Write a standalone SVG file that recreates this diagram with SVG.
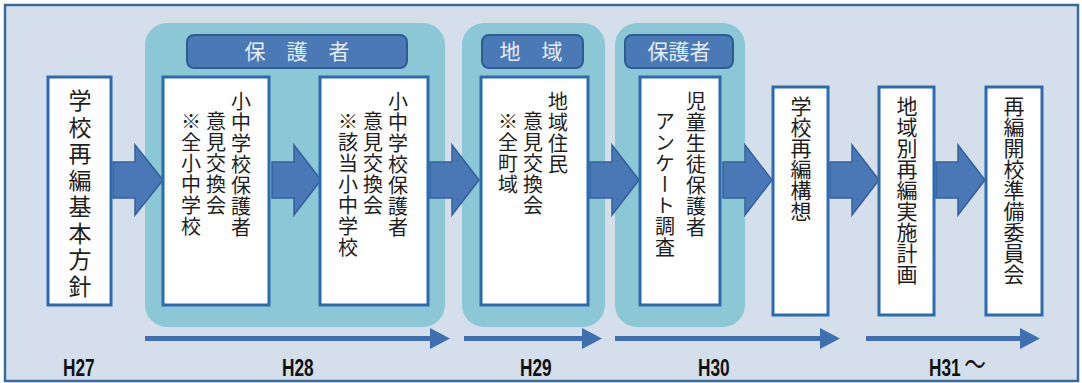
<svg xmlns="http://www.w3.org/2000/svg" width="1082" height="383" viewBox="0 0 1082 383">
<style>
.grp{fill:#8cc7d6;}
.hdr{fill:#4b79b5;stroke:#2f5b92;stroke-width:2;}
.hdrt{font-family:"Noto Sans CJK JP","Noto Sans CJK SC",sans-serif;font-size:21px;fill:#e6edf5;text-anchor:middle;}
.box{fill:#ffffff;stroke:#2d6aae;stroke-width:3;}
.vt{font-family:"Noto Sans CJK JP","Noto Sans CJK SC",sans-serif;fill:#1e1e1e;writing-mode:vertical-rl;}
.f20{font-size:20px;letter-spacing:1px;}
.f21{font-size:21px;}
.f23{font-size:23px;letter-spacing:3.5px;}
.arr{fill:#4a78b6;stroke:#36609c;stroke-width:1.5;stroke-linejoin:miter;}
.tl{fill:#3f6fae;}
.yr{font-family:"Liberation Sans",sans-serif;font-weight:bold;font-size:24px;fill:#111;}
</style>
<rect x="5" y="5" width="1073" height="376" fill="#d4dfeb" stroke="#3a6a9a" stroke-width="2.5"/>

<g id="group-hogosha1">
<rect class="grp" x="145" y="23" width="300" height="304" rx="22"/>
<rect class="hdr" x="187" y="35" width="220" height="33" rx="7"/>
<text class="hdrt" x="297" y="59">保　護　者</text>
</g>
<g id="group-chiiki">
<rect class="grp" x="462" y="23" width="143" height="304" rx="22"/>
<rect class="hdr" x="482" y="35" width="101" height="33" rx="7"/>
<text class="hdrt" x="531" y="59">地　域</text>
</g>
<g id="group-hogosha2">
<rect class="grp" x="615" y="23" width="130" height="304" rx="22"/>
<rect class="hdr" x="625" y="35" width="108" height="33" rx="7"/>
<text class="hdrt" x="679" y="59">保護者</text>
</g>

<g id="connectors">
<path class="arr" d="M113,162 H135 V145 L163,180 L135,215 V198 H113 Z"/>
<path class="arr" d="M272,162 H294 V145 L321,180 L294,215 V198 H272 Z"/>
<path class="arr" d="M430,162 H452 V145 L479,180 L452,215 V198 H430 Z"/>
<path class="arr" d="M590,162 H612 V145 L639,180 L612,215 V198 H590 Z"/>
<path class="arr" d="M723,162 H745 V145 L772,180 L745,215 V198 H723 Z"/>
<path class="arr" d="M830,162 H852 V145 L879,180 L852,215 V198 H830 Z"/>
<path class="arr" d="M936,162 H958 V145 L985,180 L958,215 V198 H936 Z"/>
</g>

<g id="node-kihon">
<rect class="box" x="48" y="77" width="63" height="228"/>
<text class="vt f23" x="80" y="89">学校再編基本方針</text>
</g>
<g id="node-iken1">
<rect class="box" x="163" y="77" width="106" height="228"/>
<text class="vt f20" x="241" y="91">小中学校保護者</text>
<text class="vt f20" x="216" y="111">意見交換会</text>
<text class="vt f20" x="191" y="111">※全小中学校</text>
</g>
<g id="node-iken2">
<rect class="box" x="320" y="77" width="108" height="228"/>
<text class="vt f20" x="398" y="91">小中学校保護者</text>
<text class="vt f20" x="373" y="111">意見交換会</text>
<text class="vt f20" x="348" y="111">※該当小中学校</text>
</g>
<g id="node-chiiki">
<rect class="box" x="481" y="77" width="107" height="228"/>
<text class="vt f20" x="558" y="91">地域住民</text>
<text class="vt f20" x="533" y="111">意見交換会</text>
<text class="vt f20" x="508" y="111">※全町域</text>
</g>
<g id="node-enquete">
<rect class="box" x="640" y="77" width="80" height="228"/>
<text class="vt f20" x="696" y="91">児童生徒保護者</text>
<text class="vt f20" x="665" y="111">アンケート調査</text>
</g>
<g id="node-kousou">
<rect class="box" x="773" y="87" width="55" height="228"/>
<text class="vt f21" x="801" y="96">学校再編構想</text>
</g>
<g id="node-jisshi">
<rect class="box" x="879" y="87" width="55" height="228"/>
<text class="vt f21" x="907" y="96">地域別再編実施計画</text>
</g>
<g id="node-junbi">
<rect class="box" x="986" y="87" width="56" height="228"/>
<text class="vt f21" x="1014" y="96">再編開校準備委員会</text>
</g>

<g id="timeline">
<path class="tl" d="M145,336 H430 V328 L450,338.5 L430,349 V341 H145 Z"/>
<path class="tl" d="M464,336 H582 V328 L602,338.5 L582,349 V341 H464 Z"/>
<path class="tl" d="M615,336 H820 V328 L840,338.5 L820,349 V341 H615 Z"/>
<path class="tl" d="M866,336 H1020 V328 L1040,338.5 L1020,349 V341 H866 Z"/>
<text class="yr" transform="translate(63,376) scale(0.72,1)">H27</text>
<text class="yr" transform="translate(282,376) scale(0.72,1)">H28</text>
<text class="yr" transform="translate(520,376) scale(0.72,1)">H29</text>
<text class="yr" transform="translate(698,376) scale(0.72,1)">H30</text>
<text class="yr" transform="translate(929,376) scale(0.72,1)">H31<tspan dx="5" dy="-1" font-family="Noto Sans CJK JP,sans-serif" font-weight="normal" font-size="30">～</tspan></text>
</g>
</svg>
